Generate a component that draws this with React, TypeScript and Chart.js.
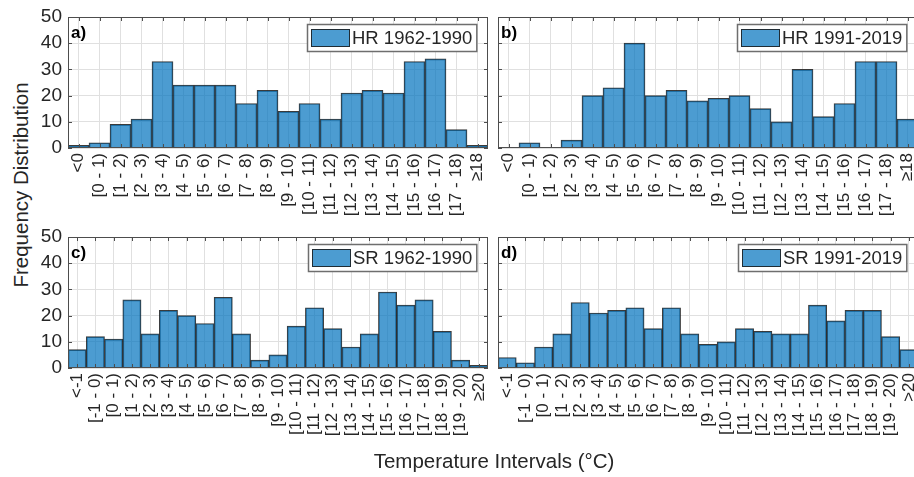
import React, { useEffect, useRef } from 'react';
import { Chart, registerables } from 'chart.js';

Chart.register(...registerables);

// ---------- data ----------
const HR_LABELS = [
  '<0', '[0 - 1)', '[1 - 2)', '[2 - 3)', '[3 - 4)', '[4 - 5)', '[5 - 6)', '[6 - 7)', '[7 - 8)', '[8 - 9)',
  '[9 - 10)', '[10 - 11)', '[11 - 12)', '[12 - 13)', '[13 - 14)', '[14 - 15)', '[15 - 16)', '[16 - 17)', '[17 - 18)', '≥18',
];
const HR_1962_1990 = [1, 2, 9, 11, 33, 24, 24, 24, 17, 22, 14, 17, 11, 21, 22, 21, 33, 34, 7, 1];
const HR_1991_2019 = [0, 2, 0, 3, 20, 23, 40, 20, 22, 18, 19, 20, 15, 10, 30, 12, 17, 33, 33, 11];

const SR_LABELS_C = [
  '<-1', '[-1 - 0)', '[0 - 1)', '[1 - 2)', '[2 - 3)', '[3 - 4)', '[4 - 5)', '[5 - 6)', '[6 - 7)', '[7 - 8)', '[8 - 9)',
  '[9 - 10)', '[10 - 11)', '[11 - 12)', '[12 - 13)', '[13 - 14)', '[14 - 15)', '[15 - 16)', '[16 - 17)', '[17 - 18)',
  '[18 - 19)', '[19 - 20)', '≥20',
];
const SR_LABELS_D = [
  '<-1', '[-1 - 0)', '[0 - 1)', '[1 - 2)', '[2 - 3)', '[3 - 4)', '[4 - 5)', '[5 - 6)', '[6 - 7)', '[7 - 8)', '[8 - 9)',
  '[9 - 10)', '[10 - 11)', '[11 - 12)', '[12 - 13)', '[13 - 14)', '[14 - 15)', '[15 - 16)', '[16 - 17)', '[17 - 18)',
  '[18 - 19)', '[19 - 20)', '>20',
];
const SR_1962_1990 = [7, 12, 11, 26, 13, 22, 20, 17, 27, 13, 3, 5, 16, 23, 15, 8, 13, 29, 24, 26, 14, 3, 1];
const SR_1991_2019 = [4, 2, 8, 13, 25, 21, 22, 23, 15, 23, 13, 9, 10, 15, 14, 13, 13, 24, 18, 22, 22, 12, 7];

const Y_TICKS = [0, 10, 20, 30, 40, 50];
const Y_TITLE = 'Frequency Distribution';
const X_TITLE = 'Temperature Intervals (°C)';

// ---------- style ----------
const FONT = '"Liberation Sans", Arial, Helvetica, sans-serif';
const BAR_FILL = 'rgba(0,114,189,0.7)';
const BAR_EDGE = 'rgba(25,25,25,0.85)';
const FRAME = '#4d4d4d';
const GRID = '#e0e0e0';
const TEXT = '#262626';

const CANVAS_W_LEFT = 450;
const CANVAS_W_RIGHT = 430;
const CANVAS_H = 230;
const PAD_TOP = 17;
const X_AXIS_H = 82;

type PanelSpec = {
  left: number;
  top: number;
  width: number;
  labels: string[];
  values: number[];
  legend: string;
  letter: string;
  showY: boolean;
};

function Panel({ spec }: { spec: PanelSpec }) {
  const ref = useRef<HTMLCanvasElement>(null);

  useEffect(() => {
    const canvas = ref.current;
    if (!canvas) return;
    const yAxisW = spec.showY ? 28 : 8;
    const framePlugin = {
      id: 'frame' + spec.letter,
      afterDatasetsDraw(chart: any) {
        const { ctx, chartArea: a, scales } = chart;
        ctx.save();
        ctx.strokeStyle = FRAME;
        ctx.lineWidth = 1;
        const line = (x1: number, y1: number, x2: number, y2: number) => {
          ctx.beginPath();
          ctx.moveTo(x1, y1);
          ctx.lineTo(x2, y2);
          ctx.stroke();
        };
        for (let i = 0; i < spec.labels.length; i++) {
          const px = Math.round(scales.x.getPixelForValue(i)) + 0.5;
          line(px, a.top, px, a.top + 4);
          line(px, a.bottom, px, a.bottom - 4);
        }
        for (const v of Y_TICKS) {
          const py = Math.round(scales.y.getPixelForValue(v)) + 0.5;
          line(a.left, py, a.left + 4, py);
          line(a.right, py, a.right - 4, py);
        }
        ctx.strokeRect(Math.round(a.left) + 0.5, Math.round(a.top) + 0.5, Math.round(a.right - a.left) - 1, Math.round(a.bottom - a.top) - 1);

        // panel letter
        ctx.font = `bold 17px ${FONT}`;
        ctx.fillStyle = '#000';
        ctx.textBaseline = 'alphabetic';
        ctx.textAlign = 'left';
        ctx.fillText(spec.letter, a.left + 3, a.top + 21);

        // legend
        ctx.font = `18.5px ${FONT}`;
        const tw = ctx.measureText(spec.legend).width;
        const bw = 4 + 39 + 2 + tw + 5;
        const bh = 28;
        const bx = Math.round(a.right - 11 - bw);
        const by = Math.round(a.top + 7);
        ctx.fillStyle = '#fff';
        ctx.fillRect(bx, by, bw, bh);
        ctx.strokeStyle = '#6e6e6e';
        ctx.lineWidth = 1.5;
        ctx.strokeRect(bx + 0.5, by + 0.5, bw - 1, bh - 1);
        ctx.fillStyle = BAR_FILL;
        ctx.fillRect(bx + 4, by + 5, 39, 18);
        ctx.strokeStyle = BAR_EDGE;
        ctx.lineWidth = 1;
        ctx.strokeRect(bx + 4.5, by + 5.5, 38, 17);
        ctx.fillStyle = TEXT;
        ctx.textBaseline = 'middle';
        ctx.fillText(spec.legend, bx + 45, by + bh / 2 + 1);
        ctx.restore();
      },
    };

    const chart = new Chart(canvas, {
      type: 'bar',
      data: {
        labels: spec.labels,
        datasets: [
          {
            label: spec.legend,
            data: spec.values,
            backgroundColor: BAR_FILL,
            borderColor: BAR_EDGE,
            borderWidth: 1,
            categoryPercentage: 1,
            barPercentage: 1,
          },
        ],
      },
      options: {
        responsive: false,
        animation: false,
        events: [],
        layout: { padding: { top: PAD_TOP, left: 0, right: 2, bottom: 0 } },
        plugins: { legend: { display: false }, tooltip: { enabled: false } },
        scales: {
          x: {
            type: 'category',
            offset: true,
            border: { display: false },
            grid: { display: true, offset: false, color: GRID, drawTicks: false },
            ticks: {
              autoSkip: false,
              maxRotation: 90,
              minRotation: 90,
              padding: 5,
              color: TEXT,
              font: { family: FONT, size: 17 },
            },
            afterFit: (s: any) => {
              s.height = X_AXIS_H;
              s.paddingLeft = 0;
              s.paddingRight = 0;
            },
          },
          y: {
            min: 0,
            max: 50,
            border: { display: false },
            grid: { display: true, color: GRID, drawTicks: false },
            ticks: {
              display: spec.showY,
              stepSize: 10,
              padding: 6,
              color: TEXT,
              font: { family: FONT, size: 19 },
            },
            afterFit: (s: any) => {
              s.width = yAxisW;
              s.paddingTop = 0;
              s.paddingBottom = 0;
            },
          },
        },
      },
      plugins: [framePlugin],
    } as any);
    return () => chart.destroy();
  }, [spec]);

  return (
    <canvas
      ref={ref}
      width={spec.width}
      height={CANVAS_H}
      style={{ position: 'absolute', left: spec.left, top: spec.top, width: spec.width, height: CANVAS_H }}
    />
  );
}

const PANELS: PanelSpec[] = [
  { left: 40, top: 0, width: CANVAS_W_LEFT, labels: HR_LABELS, values: HR_1962_1990, legend: 'HR 1962-1990', letter: 'a)', showY: true },
  { left: 490, top: 0, width: CANVAS_W_RIGHT, labels: HR_LABELS, values: HR_1991_2019, legend: 'HR 1991-2019', letter: 'b)', showY: false },
  { left: 40, top: 220, width: CANVAS_W_LEFT, labels: SR_LABELS_C, values: SR_1962_1990, legend: 'SR 1962-1990', letter: 'c)', showY: true },
  { left: 490, top: 220, width: CANVAS_W_RIGHT, labels: SR_LABELS_D, values: SR_1991_2019, legend: 'SR 1991-2019', letter: 'd)', showY: false },
];

export default function App() {
  return (
    <div
      style={{
        position: 'absolute',
        left: 0,
        top: 0,
        width: 914,
        height: 477,
        overflow: 'hidden',
        background: '#fff',
        fontFamily: FONT,
        color: TEXT,
      }}
    >
      {PANELS.map((p) => (
        <Panel key={p.letter} spec={p} />
      ))}
      <div
        style={{
          position: 'absolute',
          left: 21,
          top: 185,
          transform: 'translate(-50%, -50%) rotate(-90deg)',
          whiteSpace: 'nowrap',
          fontSize: 20.5,
          lineHeight: 1,
        }}
      >
        {Y_TITLE}
      </div>
      <div
        style={{
          position: 'absolute',
          left: 494,
          top: 461,
          transform: 'translate(-50%, -50%)',
          whiteSpace: 'nowrap',
          fontSize: 20.5,
          lineHeight: 1,
        }}
      >
        {X_TITLE}
      </div>
    </div>
  );
}
